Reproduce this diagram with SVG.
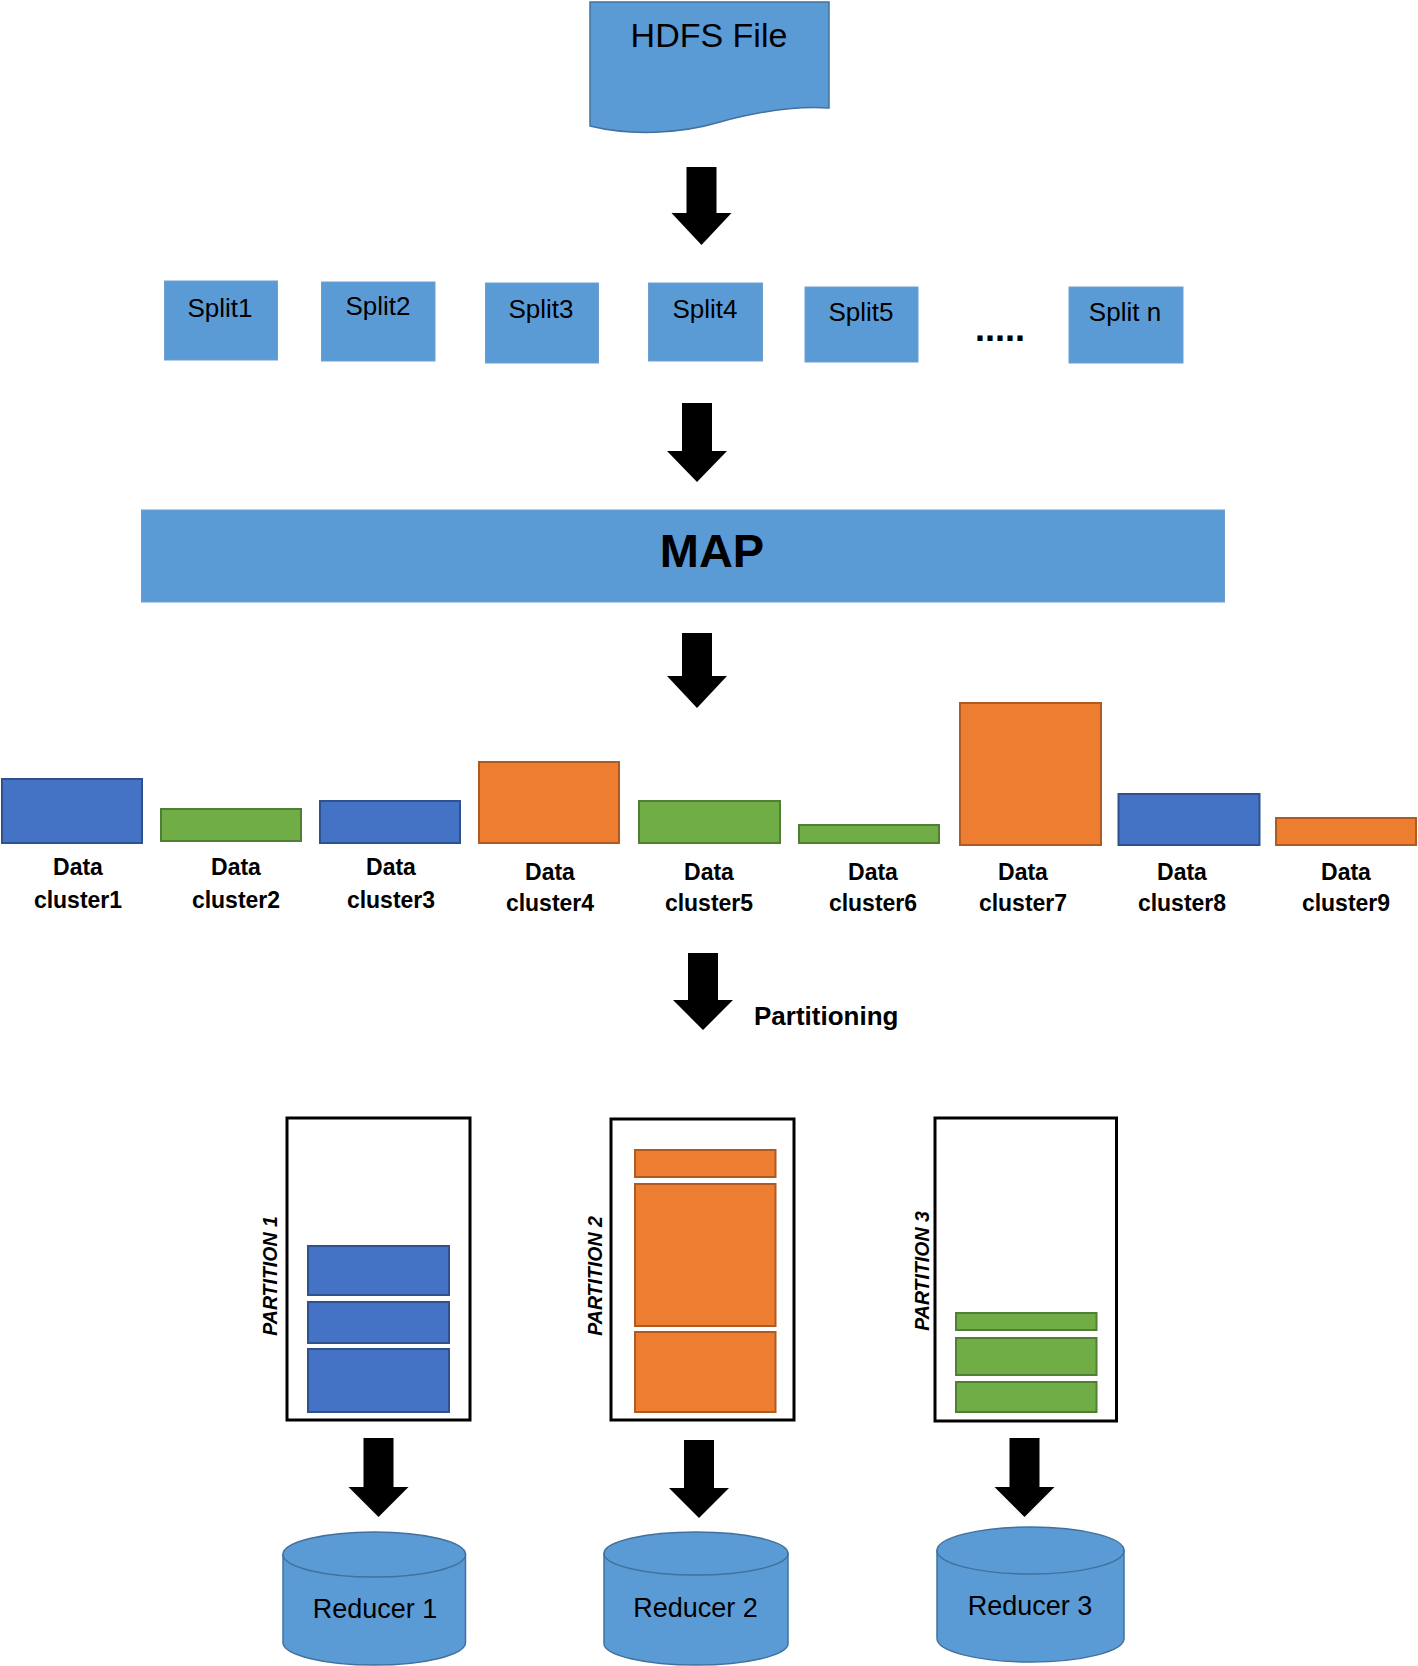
<svg xmlns="http://www.w3.org/2000/svg" width="1418" height="1666" viewBox="0 0 1418 1666">
<style>
.lb{fill:#5B9BD5;stroke:#41719C;stroke-width:1.5}
.sp{fill:#5B9BD5;stroke:#6E9FD0;stroke-width:1}
.blue{fill:#4472C4;stroke:#2F528F;stroke-width:2}
.green{fill:#70AD47;stroke:#507E32;stroke-width:2}
.orange{fill:#ED7D31;stroke:#AE5A21;stroke-width:2}
.part{fill:#FFFFFF;stroke:#000000;stroke-width:3}
.arr{fill:#000000}
.t{font-family:"Liberation Sans",Arial,sans-serif;fill:#000000;text-anchor:middle}
.big{font-size:34px}
.sm{font-size:26px}
.red{font-size:27px}
.dl{font-size:23px;font-weight:bold}
.pl{font-size:19.5px;font-weight:bold;font-style:italic}
</style>
<rect width="1418" height="1666" fill="#FFFFFF"/>

<g id="hdfs">
<path class="lb" d="M590,2 L829,2 L829,108 C800,106 760,111 720,122 C680,134 630,136 590,126 Z"/>
<text class="t big" x="709" y="47">HDFS File</text>
</g>

<g id="split1"><rect class="sp" x="164.5" y="281" width="113" height="79"/><text class="t sm" x="220" y="317">Split1</text></g>
<g id="split2"><rect class="sp" x="321.5" y="282" width="113.5" height="79"/><text class="t sm" x="378" y="315">Split2</text></g>
<g id="split3"><rect class="sp" x="485.5" y="283" width="113" height="80"/><text class="t sm" x="541" y="318">Split3</text></g>
<g id="split4"><rect class="sp" x="648.5" y="283" width="114" height="78"/><text class="t sm" x="705" y="318">Split4</text></g>
<g id="split5"><rect class="sp" x="805" y="287" width="113" height="75"/><text class="t sm" x="861" y="321">Split5</text></g>
<g id="dots"><text x="975" y="341" style="font-family:'Liberation Sans',Arial,sans-serif;font-size:36px;font-weight:bold">.....</text></g>
<g id="splitn"><rect class="sp" x="1069" y="287" width="114" height="76"/><text class="t sm" x="1125" y="321">Split n</text></g>

<g id="map">
<rect x="141.5" y="510" width="1083" height="92" fill="#5B9BD5" stroke="#6E9FD0" stroke-width="1"/>
<text class="t" x="712" y="567" style="font-size:47px;font-weight:bold">MAP</text>
</g>

<g id="cluster1"><rect class="blue" x="2" y="779" width="140" height="64"/><text class="t dl" x="78" y="875">Data</text><text class="t dl" x="78" y="908">cluster1</text></g>
<g id="cluster2"><rect class="green" x="161" y="809" width="140" height="32"/><text class="t dl" x="236" y="875">Data</text><text class="t dl" x="236" y="908">cluster2</text></g>
<g id="cluster3"><rect class="blue" x="320" y="801" width="140" height="42"/><text class="t dl" x="391" y="875">Data</text><text class="t dl" x="391" y="908">cluster3</text></g>
<g id="cluster4"><rect class="orange" x="479" y="762" width="140" height="81"/><text class="t dl" x="550" y="880">Data</text><text class="t dl" x="550" y="911">cluster4</text></g>
<g id="cluster5"><rect class="green" x="639" y="801" width="141" height="42"/><text class="t dl" x="709" y="880">Data</text><text class="t dl" x="709" y="911">cluster5</text></g>
<g id="cluster6"><rect class="green" x="799" y="825" width="140" height="18"/><text class="t dl" x="873" y="880">Data</text><text class="t dl" x="873" y="911">cluster6</text></g>
<g id="cluster7"><rect class="orange" x="960" y="703" width="141" height="142"/><text class="t dl" x="1023" y="880">Data</text><text class="t dl" x="1023" y="911">cluster7</text></g>
<g id="cluster8"><rect class="blue" x="1118.5" y="794" width="141" height="51"/><text class="t dl" x="1182" y="880">Data</text><text class="t dl" x="1182" y="911">cluster8</text></g>
<g id="cluster9"><rect class="orange" x="1276" y="818" width="140" height="27"/><text class="t dl" x="1346" y="880">Data</text><text class="t dl" x="1346" y="911">cluster9</text></g>

<g id="partitioning-label"><text x="754" y="1025" style="font-family:'Liberation Sans',Arial,sans-serif;font-size:26px;font-weight:bold">Partitioning</text></g>

<g id="partition1">
<rect class="part" x="287" y="1118" width="183" height="302"/>
<rect class="blue" x="308" y="1246" width="141" height="49"/>
<rect class="blue" x="308" y="1302" width="141" height="41"/>
<rect class="blue" x="308" y="1349" width="141" height="63"/>
<text class="t pl" transform="translate(277,1276) rotate(-90)" x="0" y="0">PARTITION 1</text>
</g>
<g id="partition2">
<rect class="part" x="611" y="1119" width="183" height="301"/>
<rect class="orange" x="635" y="1150" width="140.5" height="27"/>
<rect class="orange" x="635" y="1184" width="140.5" height="142"/>
<rect class="orange" x="635" y="1332" width="140.5" height="80"/>
<text class="t pl" transform="translate(602,1276) rotate(-90)" x="0" y="0">PARTITION 2</text>
</g>
<g id="partition3">
<rect class="part" x="935" y="1118" width="181.5" height="303"/>
<rect class="green" x="956" y="1313" width="140.5" height="17"/>
<rect class="green" x="956" y="1338" width="140.5" height="37"/>
<rect class="green" x="956" y="1382" width="140.5" height="30"/>
<text class="t pl" transform="translate(929,1271) rotate(-90)" x="0" y="0">PARTITION 3</text>
</g>

<g id="reducer1">
<path class="lb" d="M283,1554.5 L283,1642.5 A91.25,22.5 0 0 0 465.5,1642.5 L465.5,1554.5 Z"/>
<ellipse class="lb" cx="374.25" cy="1554.5" rx="91.25" ry="22.5"/>
<text class="t red" x="375" y="1618">Reducer 1</text>
</g>
<g id="reducer2">
<path class="lb" d="M604,1553.5 L604,1643.5 A92,21.5 0 0 0 788,1643.5 L788,1553.5 Z"/>
<ellipse class="lb" cx="696" cy="1553.5" rx="92" ry="21.5"/>
<text class="t red" x="695.5" y="1617">Reducer 2</text>
</g>
<g id="reducer3">
<path class="lb" d="M937,1550.5 L937,1638.5 A93.5,23.5 0 0 0 1124,1638.5 L1124,1550.5 Z"/>
<ellipse class="lb" cx="1030.5" cy="1550.5" rx="93.5" ry="23.5"/>
<text class="t red" x="1030" y="1615">Reducer 3</text>
</g>

<g id="connectors">
<polygon class="arr" points="686.5,167 716.5,167 716.5,213 731.5,213 701.5,245 671.5,213 686.5,213"/>
<polygon class="arr" points="682,403 712,403 712,451 727,451 697,482 667,451 682,451"/>
<polygon class="arr" points="682,633 712,633 712,676 727,676 697,708 667,676 682,676"/>
<polygon class="arr" points="688,953 718,953 718,1000 733,1000 703,1030 673,1000 688,1000"/>
<polygon class="arr" points="363.5,1438 393.5,1438 393.5,1487 408.5,1487 378.5,1517 348.5,1487 363.5,1487"/>
<polygon class="arr" points="684,1440 714,1440 714,1488 729,1488 699,1518 669,1488 684,1488"/>
<polygon class="arr" points="1009.5,1438 1039.5,1438 1039.5,1487 1054.5,1487 1024.5,1517 994.5,1487 1009.5,1487"/>
</g>
</svg>
